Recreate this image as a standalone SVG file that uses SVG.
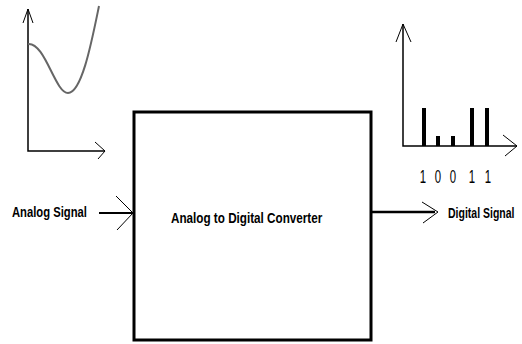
<svg xmlns="http://www.w3.org/2000/svg" width="522" height="344" viewBox="0 0 522 344">
<style>
.ax{stroke:#000;stroke-width:1.5;fill:none}
.ah{stroke:#000;stroke-width:1;fill:none}
.lbl{font-family:"Liberation Sans",Arial,sans-serif;font-weight:bold;font-size:15px;fill:#000}
.dig{font-family:"Liberation Sans",Arial,sans-serif;font-size:19px;fill:#000}
.bar{fill:#000}
</style>
<rect width="522" height="344" fill="#fff"/>
<g id="analog-graph">
<polyline class="ax" points="28,9 28,151 105,151"/>
<polyline class="ah" points="23,23 28,9 33,23"/>
<polyline class="ah" points="95,142 105,151 98,159"/>
<path d="M28,44 C45,42 55,93 68,93 C82,93 92,40 99,6" stroke="#666" stroke-width="2" fill="none"/>
</g>
<g id="digital-graph">
<polyline class="ax" points="403,24 403,146 517,146"/>
<polyline class="ah" points="396,42 403,24 411,42"/>
<polyline class="ah" points="503,135 517,146 505,156"/>
<rect class="bar" x="422" y="108" width="4" height="38"/>
<rect class="bar" x="436" y="136" width="4" height="10"/>
<rect class="bar" x="451" y="136" width="4" height="10"/>
<rect class="bar" x="470" y="108" width="4" height="38"/>
<rect class="bar" x="485" y="108" width="4" height="38"/>
<g class="dig" text-anchor="middle">
<text transform="translate(423,183) scale(0.6,1)">1</text>
<text transform="translate(438,183) scale(0.6,1)">0</text>
<text transform="translate(453,183) scale(0.6,1)">0</text>
<text transform="translate(472,183) scale(0.6,1)">1</text>
<text transform="translate(488,183) scale(0.6,1)">1</text>
</g>
</g>
<g id="converter">
<rect x="134" y="112" width="237" height="228" fill="#fff" stroke="#000" stroke-width="3"/>
<text class="lbl" transform="translate(171,223) scale(0.78,1)">Analog to Digital Converter</text>
</g>
<g id="analog-signal">
<text class="lbl" transform="translate(12,217) scale(0.75,1)">Analog Signal</text>
</g>
<g id="digital-signal">
<text class="lbl" transform="translate(448,218) scale(0.7,1)">Digital Signal</text>
</g>
<g id="connectors">
<line x1="99" y1="213" x2="133" y2="213" stroke="#000" stroke-width="2"/>
<polyline class="ah" points="116,196 133,213 117,230"/>
<line x1="371" y1="212" x2="435" y2="212" stroke="#000" stroke-width="2.5"/>
<polyline class="ah" points="422,202 438,212 423,223"/>
</g>
</svg>
